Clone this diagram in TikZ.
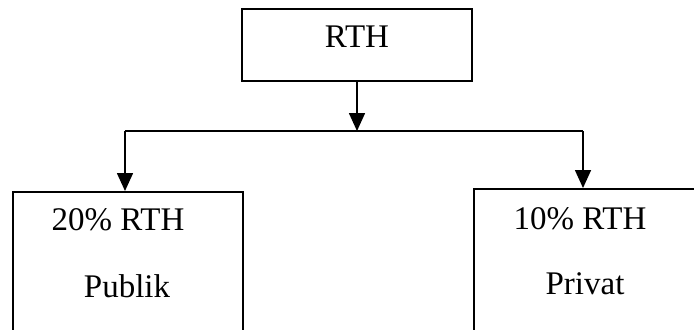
\documentclass[tikz,border=0pt]{standalone}
\usepackage{fontspec}
\setmainfont{Liberation Serif}
\usetikzlibrary{arrows.meta}
\begin{document}
\begin{tikzpicture}[x=0.5pt,y=-0.5pt,
  box/.style={draw,line width=0.8pt,rectangle,inner sep=0pt},
  lbl/.style={font=\fontsize{16.5}{20}\selectfont,inner sep=0pt},
  conn/.style={line width=0.8pt},
  arr/.style={conn,-{Triangle[width=8pt,length=9pt]}}]
\useasboundingbox (0,0) rectangle (694,329);
\clip (0,0) rectangle (694,329);
\node[box,minimum width=115pt,minimum height=36pt] (top) at (357,45) {};
\node[lbl] (t1) at (357,37) {RTH};
\node[box,minimum width=115pt,minimum height=95pt,anchor=north west] (lbox) at (12,191) {};
\node[box,minimum width=130pt,minimum height=95pt,anchor=north west] (rbox) at (473,188) {};
\node[lbl] (l1) at (118,220) {20\% RTH};
\node[lbl] (l2) at (127,286) {Publik};
\node[lbl] (r1) at (580,219) {10\% RTH};
\node[lbl] (r2) at (585,284) {Privat};
\coordinate (hl) at (125,131);
\coordinate (hr) at (583,131);
\coordinate (hm) at (357,131);
\draw[conn] (hl) -- (hr);
\draw[arr] (top.south) -- (hm);
\draw[arr] (hl) -- (hl |- lbox.north);
\draw[arr] (hr) -- (hr |- rbox.north);
\end{tikzpicture}
\end{document}
